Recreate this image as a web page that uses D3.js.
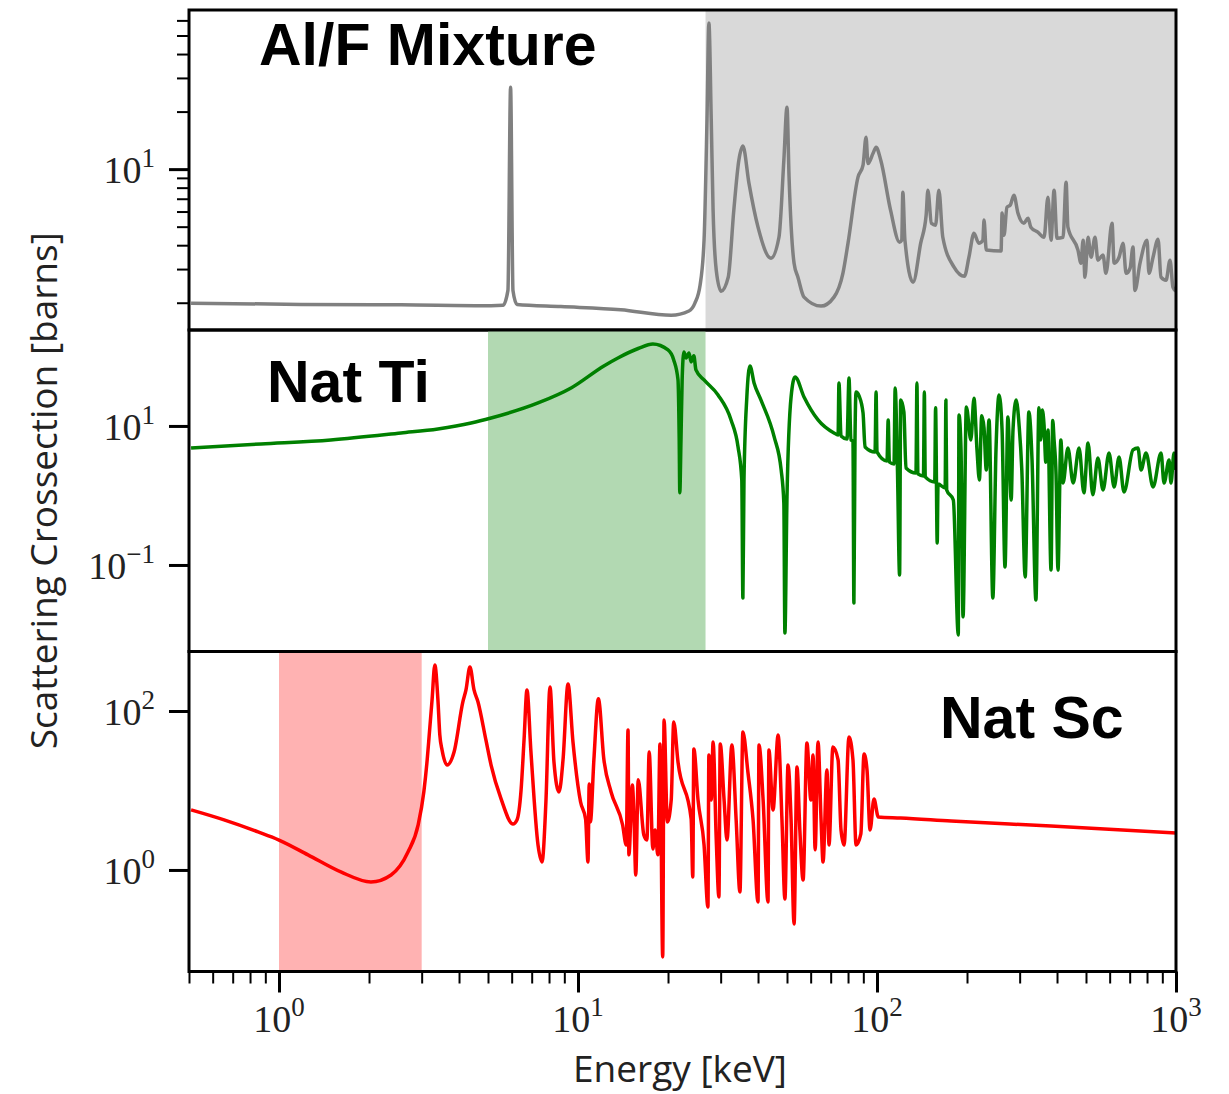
<!DOCTYPE html>
<html>
<head>
<meta charset="utf-8">
<script src="https://cdn.jsdelivr.net/npm/d3@7"></script>
<style>
  html, body { margin: 0; padding: 0; background: #fff; }
  svg { display: block; }
</style>
</head>
<body>
<svg id="chart" width="1229" height="1094"></svg>
<script>
// ---- Shared energy axis (keV) ----
const energyDomain = [0.5, 1000];
const energyMajorTicks = [1, 10, 100, 1000];
const energyMinorTicks = [0.5, 0.6, 0.7, 0.8, 0.9, 2, 3, 4, 5, 6, 7, 8, 9,
  20, 30, 40, 50, 60, 70, 80, 90, 200, 300, 400, 500, 600, 700, 800, 900];
const energyTickExponents = ["0", "1", "2", "3"];

// ---- Al/F mixture: elastic scattering cross section (barns) ----
const alfEnergy = [0.508, 1.185, 2.56, 5.12, 5.61, 5.83, 5.95, 6.06, 6.25, 8.77, 13.9, 20.5, 23.5, 24.6,
  25.6, 26.4, 27.0, 27.4, 27.9, 28.3, 29.0, 30.1, 31.8, 33.2, 34.5, 35.6, 37.3, 40.0, 44.2, 47.0,
  48.8, 50.0, 50.8, 52.8, 54.4, 57.0, 65.0, 71.8, 76.9, 80.0, 86.4, 89.8, 91.9, 93.3, 97.0, 99.3, 103, 111,
  119, 121, 122, 124, 132, 140, 146, 148, 152, 157, 161, 166, 181, 196, 203, 211, 219, 226, 228,
  232, 260, 262, 266, 272, 279, 287, 296, 310, 320, 327, 345, 362, 373, 382, 391, 400, 419, 429,
  435, 470, 481, 489, 496, 508, 520, 536, 548, 570, 583, 611, 621, 645, 665, 681, 702, 718, 729,
  758, 800, 812, 838, 871, 891, 926, 955, 977, 1000];
const alfXs = [1.99, 1.96, 1.95, 1.93, 1.94, 2.32, 26.8, 2.32, 1.96, 1.91, 1.84, 1.72, 1.81, 1.99,
  2.47, 4.25, 18.1, 58.1, 18.1, 6.10, 2.96, 2.30, 2.72, 6.10, 11.1, 13.2, 8.45, 4.97, 3.42, 4.40,
  11.1, 21.1, 9.08, 3.22, 2.72, 2.14, 1.92, 2.14, 2.85, 4.10, 9.08, 10.5, 14.7, 10.7, 12.1, 13.0, 11.1, 6.10,
  4.15, 4.25, 7.58, 4.25, 2.56, 4.10, 5.74, 7.76, 5.21, 5.09, 7.76, 4.40, 3.07, 2.75, 3.46, 4.62,
  4.10, 4.25, 5.41, 3.77, 3.73, 5.89, 4.51, 6.32, 6.48, 7.31, 5.89, 5.21, 5.54, 4.97, 4.68, 4.40,
  7.13, 4.25, 7.76, 4.35, 4.40, 8.55, 4.97, 3.77, 3.22, 4.25, 2.72, 4.40, 3.46, 4.40, 3.34, 3.55,
  2.85, 5.21, 3.22, 3.46, 4.10, 2.85, 3.03, 3.91, 2.32, 3.22, 4.25, 2.85, 3.46, 4.30, 2.72, 2.62,
  3.34, 2.41, 2.30];

// ---- Natural titanium ----
const tiEnergy = [0.508, 0.871, 1.49, 2.56, 3.40, 4.39, 5.12, 7.35, 9.48, 12.2, 13.6, 15.9, 17.8, 20.0, 20.9,
  21.6, 21.8, 21.9, 22.1, 22.3, 22.6, 23.0, 23.5, 23.9, 24.4, 24.8, 26.4, 29.4, 32.5, 34.3, 35.3,
  35.6, 35.9, 36.7, 37.6, 38.8, 40.9, 45.3, 47.8, 48.8, 49.2, 50.0, 51.6, 53.2, 57.0, 63.5, 71.8,
  74.1, 74.6, 75.8, 79.4, 80.6, 81.8, 83.1, 83.7, 84.4, 85.1, 87.1, 89.8, 91.2, 98.5, 99.3, 100,
  108, 109, 110, 114, 115, 117, 119, 120, 123, 125, 135, 136, 137, 143, 144, 145, 156, 157, 159,
  160, 169, 170, 171, 180, 187, 188, 191, 194, 199, 206, 211, 216, 220, 224, 228, 232, 237, 244,
  250, 256, 262, 268, 274, 281, 285, 292, 299, 305, 313, 322, 330, 340, 348, 353, 357, 362, 367,
  373, 382, 387, 391, 397, 403, 412, 419, 435, 453, 474,
  492, 508, 527, 548, 570, 597, 621, 645, 670, 718, 746, 764, 794, 838, 891, 912, 948, 962, 985,
  1000];
const tiXs = [4.82, 5.51, 6.29, 7.93, 9.05, 11.0, 13.0, 21.4, 35.2, 73.0, 95.1, 130, 151, 124, 89.1,
  45.9, 6.29, 1.09, 6.29, 45.9, 116, 95.1, 112, 83.4, 102, 63.9, 45.9, 27.9, 12.2, 4.99, 1.67,
  0.0335, 1.67, 26.1, 73.0, 41.6, 23.7, 6.95, 2.33, 0.780, 0.0105, 0.951, 26.1, 50.7, 26.1, 12.2, 7.93,
  7.43, 41.6, 7.18, 6.50, 49.1, 6.29, 6.08, 0.0284, 5.89, 30.8, 27.0, 15.4, 4.99, 4.23, 30.8, 4.23,
  3.13, 12.2, 3.03, 2.84, 35.2, 2.66, 0.0718, 23.7, 15.9, 2.49, 2.11, 41.6, 2.04, 1.91, 30.8, 1.85,
  1.56, 18.2, 0.207, 1.46, 1.28, 23.7, 1.20, 0.861, 0.00984, 14.4, 4.52, 0.0179, 18.8, 6.29, 25.0,
  4.52, 1.67, 14.0, 9.35, 2.33, 12.2, 0.0335,
  4.52, 27.9, 8.75, 0.0936, 13.5, 0.861, 8.75, 23.7, 9.68, 2.33, 0.0672, 15.9, 3.24, 0.0313, 18.2,
  6.29, 17.0, 10.3, 3.00,
  8.75, 0.0847, 12.0, 6.29, 2.00, 0.0847, 6.29, 1.51, 4.82, 1.51, 4.82, 1.09, 5.69, 1.02, 3.47, 1.20,
  4.09, 1.32, 3.58, 1.12, 4.52, 4.82, 2.33, 4.09, 1.32, 4.09, 1.51, 3.24, 1.51, 4.09, 2.33];

// ---- Natural scandium ----
const scEnergy = [0.508, 0.655, 0.851, 1.00, 1.25, 1.61, 2.03, 2.37, 2.70, 2.92, 3.05, 3.13, 3.18, 3.25,
  3.32, 3.40, 3.45, 3.51, 3.65, 3.85, 4.12, 4.22, 4.35, 4.49, 4.63, 4.92, 5.12, 5.53, 6.06, 6.25, 6.45,
  6.60, 6.75, 6.96, 7.35, 7.58, 7.81,
  8.06, 8.31, 8.64, 8.91, 9.26, 9.62, 10.2, 10.6, 10.8, 10.9, 11.0, 11.3, 11.7, 12.2, 12.9, 14.1,
  14.5, 14.7, 14.8, 15.2, 15.4, 15.6, 15.9, 16.6, 17.0, 17.3, 17.8, 18.1, 18.5, 18.8, 19.2, 19.4,
  19.9, 20.5, 20.9, 21.6, 23.9, 24.2, 24.4, 25.2, 26.4, 27.2, 27.4, 27.9, 28.3, 29.0, 29.6, 29.9,
  30.8, 31.5, 32.7, 33.8, 34.8, 35.6, 37.0, 38.5, 40.0, 40.3, 41.6, 43.2, 43.5, 44.9, 46.7, 48.1,
  49.2, 50.4, 51.6, 52.8, 54.0, 55.2, 56.6, 58.3, 60.1, 61.1, 62.1, 63.5, 65.0, 66.0, 68.0, 69.1,
  71.2, 74.1, 75.8, 77.6, 80.6, 83.1, 85.1, 88.3, 90.5, 92.6, 94.8, 97.7, 101, 120, 177, 382, 1000];
const scXs = [5.69, 4.26, 3.01, 2.38, 1.55, 0.944, 0.706, 0.865, 1.68, 3.68, 9.58, 24.2, 49.9, 138,
  379, 138, 49.9, 32.3, 20.9, 30.5, 130, 184, 357, 184, 130, 43.2, 20.9, 7.82, 3.79, 4.26, 10.1,
  43.2, 184, 30.5, 2.06, 1.26, 7.16,
  200, 22.8, 9.58, 24.2, 219, 40.7, 7.16, 4.39, 1.26, 12.1, 4.02, 24.2, 142, 24.9, 9.58, 3.68,
  2.06, 57.7, 1.55, 11.7, 4.26, 0.865, 13.6, 2.75, 2.38, 30.5, 1.84, 3.18, 1.55, 38.5, 0.0805, 77.1,
  4.02, 7.60, 72.8, 22.8, 4.39, 0.817, 33.3, 7.60, 2.06, 0.343, 28.0, 7.60, 40.7, 2.38, 0.457, 38.5,
  7.60, 2.38, 37.3, 4.26, 0.528, 54.5, 17.1, 4.26, 0.395, 37.3, 7.60, 0.395, 32.3, 5.69, 49.9, 4.26,
  0.432, 20.9, 4.26, 0.209, 19.8, 3.18, 0.748, 39.6, 7.60, 28.0, 1.79, 40.7, 4.26, 1.26, 18.1, 2.06,
  35.3, 24.2, 3.18, 2.06, 47.1, 24.2, 2.06, 2.84, 28.8, 18.1, 3.18, 7.82, 4.64, 4.51, 4.13, 3.57, 2.92];

// ---- Per-panel vertical ranges, ticks and highlighted energy windows ----
const alfRange = [1.44, 68.0];
const tiRange = [0.00569, 240];
const scRange = [0.0528, 560];
const alfMajorTicks = [10];
const alfMinorTicks = [2, 3, 4, 5, 6, 7, 8, 9, 20, 30, 40, 50, 60];
const alfTickExponents = ["1"];
const tiMajorTicks = [0.1, 10];
const tiTickExponents = ["\u22121", "1"];
const scMajorTicks = [1, 100];
const scTickExponents = ["0", "2"];
const alfWindow = [26.7, 1000];
const tiWindow = [5.0, 26.7];
const scWindow = [1.0, 3.0];

const svg = d3.select("#chart");
const plotLeft = 189, plotRight = 1176;
const x = d3.scaleLog().domain(energyDomain).range([plotLeft, plotRight]);

const panels = [
  { id: "alf", top: 10, bottom: 330, range: alfRange, energy: alfEnergy, xs: alfXs,
    color: "#808080", window: alfWindow, windowColor: "#d9d9d9",
    majors: alfMajorTicks, minors: alfMinorTicks, exps: alfTickExponents,
    title: "Al/F Mixture", titleX: 259, titleY: 65 },
  { id: "ti", top: 330, bottom: 651.5, range: tiRange, energy: tiEnergy, xs: tiXs,
    color: "#008000", window: tiWindow, windowColor: "#b2d9b2",
    majors: tiMajorTicks, minors: [], exps: tiTickExponents,
    title: "Nat Ti", titleX: 267, titleY: 402 },
  { id: "sc", top: 651.5, bottom: 971.5, range: scRange, energy: scEnergy, xs: scXs,
    color: "#ff0000", window: scWindow, windowColor: "#ffb2b2",
    majors: scMajorTicks, minors: [], exps: scTickExponents,
    title: "Nat Sc", titleX: 940, titleY: 738 }
];

const defs = svg.append("defs");

// power-of-ten label: "10" with a raised exponent
function powerLabel(textSel, exp, baseSize, supSize, rise) {
  textSel.append("tspan").attr("font-size", baseSize).text("10");
  textSel.append("tspan").attr("font-size", supSize).attr("dy", -rise).text(exp);
}

panels.forEach(p => {
  const y = d3.scaleLog().domain(p.range).range([p.bottom, p.top]);
  const g = svg.append("g").attr("class", "panel-" + p.id);

  defs.append("clipPath").attr("id", "clip-" + p.id)
    .append("rect")
    .attr("x", plotLeft).attr("y", p.top)
    .attr("width", plotRight - plotLeft).attr("height", p.bottom - p.top);

  // highlighted energy window
  g.append("rect")
    .attr("x", x(p.window[0]))
    .attr("y", p.top)
    .attr("width", x(p.window[1]) - x(p.window[0]))
    .attr("height", p.bottom - p.top)
    .attr("fill", p.windowColor);

  // cross-section curve
  const pts = p.energy.map((e, i) => [e, p.xs[i]]);
  const line = d3.line().x(d => x(d[0])).y(d => y(d[1])).curve(d3.curveMonotoneX);
  g.append("path")
    .datum(pts)
    .attr("clip-path", "url(#clip-" + p.id + ")")
    .attr("d", line)
    .attr("fill", "none")
    .attr("stroke", p.color)
    .attr("stroke-width", 3.5)
    .attr("stroke-linejoin", "round");

  // y ticks
  const major = d3.axisLeft(y).tickValues(p.majors).tickSize(20).tickFormat("");
  const ga = g.append("g").attr("transform", `translate(${plotLeft},0)`).call(major);
  ga.select(".domain").remove();
  ga.selectAll(".tick line").attr("stroke", "#000").attr("stroke-width", 3);
  if (p.minors.length) {
    const minor = d3.axisLeft(y).tickValues(p.minors).tickSize(12).tickFormat("");
    const gm = g.append("g").attr("transform", `translate(${plotLeft},0)`).call(minor);
    gm.select(".domain").remove();
    gm.selectAll(".tick line").attr("stroke", "#000").attr("stroke-width", 2);
  }
  p.majors.forEach((v, i) => {
    const t = g.append("text")
      .attr("x", 155).attr("y", y(v) + 14)
      .attr("text-anchor", "end")
      .attr("font-family", "'Liberation Serif', 'DejaVu Serif', serif")
      .attr("fill", "#222");
    powerLabel(t, p.exps[i], 38, 27, 16);
  });

  // panel frame
  g.append("rect")
    .attr("x", plotLeft).attr("y", p.top)
    .attr("width", plotRight - plotLeft).attr("height", p.bottom - p.top)
    .attr("fill", "none").attr("stroke", "#000").attr("stroke-width", 3);

  // panel title
  g.append("text")
    .attr("x", p.titleX).attr("y", p.titleY)
    .attr("font-family", "'Liberation Sans', Arial, sans-serif")
    .attr("font-weight", "bold")
    .attr("font-size", 59)
    .attr("fill", "#000")
    .text(p.title);
});

// shared energy axis along the bottom panel
const axisY = panels[2].bottom;
const xMajor = d3.axisBottom(x).tickValues(energyMajorTicks).tickSize(21).tickFormat("");
const gx = svg.append("g").attr("transform", `translate(0,${axisY})`).call(xMajor);
gx.select(".domain").remove();
gx.selectAll(".tick line").attr("stroke", "#000").attr("stroke-width", 3);
const xMinor = d3.axisBottom(x).tickValues(energyMinorTicks).tickSize(12).tickFormat("");
const gxm = svg.append("g").attr("transform", `translate(0,${axisY})`).call(xMinor);
gxm.select(".domain").remove();
gxm.selectAll(".tick line").attr("stroke", "#000").attr("stroke-width", 2);

energyMajorTicks.forEach((v, i) => {
  const t = svg.append("text")
    .attr("x", x(v)).attr("y", 1032)
    .attr("text-anchor", "middle")
    .attr("font-family", "'Liberation Serif', 'DejaVu Serif', serif")
    .attr("fill", "#222");
  powerLabel(t, energyTickExponents[i], 38, 27, 16);
});

// axis titles
svg.append("text")
  .attr("x", 680).attr("y", 1082)
  .attr("text-anchor", "middle")
  .attr("font-family", "'Open Sans', 'DejaVu Sans', sans-serif")
  .attr("font-size", 37)
  .attr("fill", "#222")
  .text("Energy [keV]");

svg.append("text")
  .attr("transform", `translate(57,${(panels[0].top + panels[2].bottom) / 2}) rotate(-90)`)
  .attr("text-anchor", "middle")
  .attr("font-family", "'Open Sans', 'DejaVu Sans', sans-serif")
  .attr("font-size", 37)
  .attr("fill", "#222")
  .text("Scattering Crossection [barns]");
</script>
</body>
</html>
